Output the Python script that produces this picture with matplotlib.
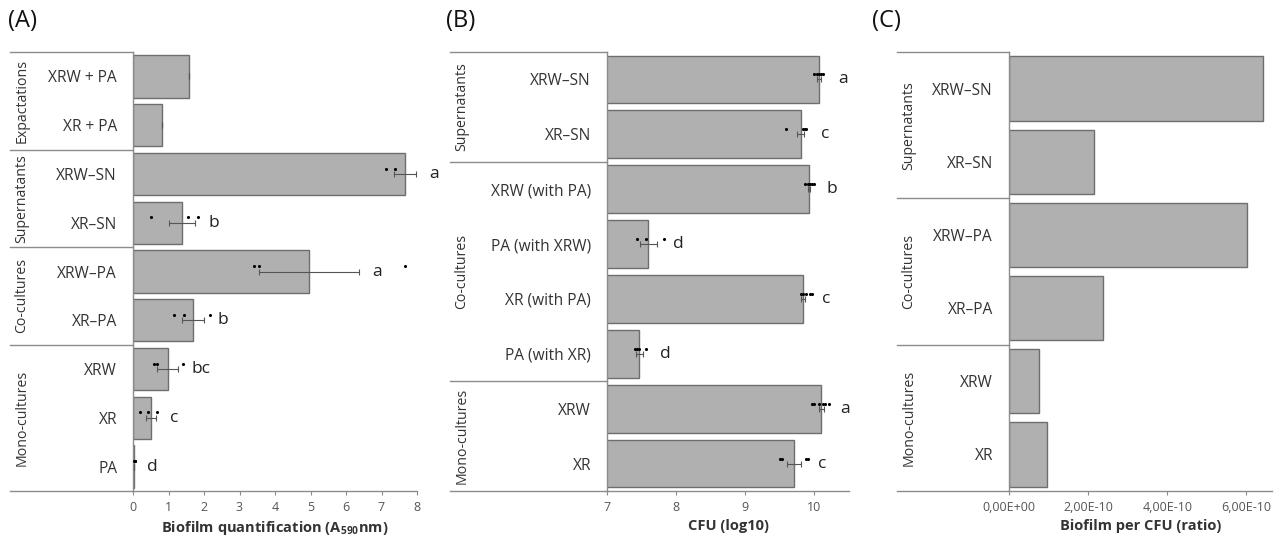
import numpy as np
import matplotlib
matplotlib.use("Agg")
import matplotlib.pyplot as plt
from matplotlib.transforms import blended_transform_factory
from matplotlib.ticker import FuncFormatter

plt.rcParams['font.family'] = ['Open Sans', 'DejaVu Sans']
plt.rcParams['mathtext.fontset'] = 'custom'
plt.rcParams['mathtext.rm'] = 'Open Sans'
plt.rcParams['mathtext.bf'] = 'Open Sans:bold'

# panel A: biofilm quantification
a_categories = ["XRW + PA", "XR + PA", "XRW\u2013SN", "XR\u2013SN", "XRW\u2013PA",
                "XR\u2013PA", "XRW", "XR", "PA"]
a_groups = ["Expactations", "Supernatants", "Co-cultures", "Mono-cultures"]
a_group_sizes = [2, 2, 2, 3]
a_means = [1.58, 0.82, 7.66, 1.38, 4.96, 1.69, 0.98, 0.52, 0.02]
a_errs = [0, 0, 0.31, 0.36, 1.40, 0.32, 0.30, 0.14, 0]
a_points = [[], [], [7.12, 7.37, 8.18], [0.50, 1.54, 1.83], [3.40, 3.54, 7.67],
            [1.15, 1.44, 2.17], [0.58, 0.68, 1.42], [0.19, 0.41, 0.69], [0.04, 0.05, 0.06]]
a_letters = ["", "", "a", "b", "a", "b", "bc", "c", "d"]

# panel B: CFU (log10)
b_categories = ["XRW\u2013SN", "XR\u2013SN", "XRW (with PA)", "PA (with XRW)",
                "XR (with PA)", "PA (with XR)", "XRW", "XR"]
b_groups = ["Supernatants", "Co-cultures", "Mono-cultures"]
b_group_sizes = [2, 4, 2]
b_means = [10.07, 9.80, 9.92, 7.60, 9.84, 7.47, 10.10, 9.71]
b_errs = [0.03, 0.05, 0.02, 0.12, 0.03, 0.05, 0.04, 0.10]
b_points = [[10.00, 10.03, 10.06, 10.10, 10.13], [9.59, 9.83, 9.86, 9.88],
            [9.87, 9.90, 9.93, 9.96, 9.99], [7.43, 7.56, 7.82],
            [9.81, 9.84, 9.88, 9.93, 9.97], [7.41, 7.44, 7.47, 7.56],
            [9.96, 9.99, 10.07, 10.12, 10.16, 10.21], [9.50, 9.53, 9.88, 9.91]]
b_letters = ["a", "c", "b", "d", "c", "d", "a", "c"]

# panel C: biofilm per CFU
c_categories = ["XRW\u2013SN", "XR\u2013SN", "XRW\u2013PA", "XR\u2013PA", "XRW", "XR"]
c_groups = ["Supernatants", "Co-cultures", "Mono-cultures"]
c_group_sizes = [2, 2, 2]
c_ratio = [6.41e-10, 2.15e-10, 6.02e-10, 2.38e-10, 0.76e-10, 0.96e-10]

BAR = '#b0b0b0'
EDGE = '#6e6e6e'
LINE = '#8c8c8c'
W, H = 1274, 537

fig = plt.figure(figsize=(W / 100, H / 100), dpi=100)


def px_axes(left, right, top=52, bottom=491):
    return fig.add_axes([left / W, 1 - bottom / H, (right - left) / W, (bottom - top) / H])


def setup(ax, cats, groups, sizes, box_left, xlabel):
    n = len(cats)
    y = np.arange(n)
    ax.set_ylim(n - 0.5, -0.5)
    ax.set_yticks(y)
    ax.set_yticklabels(cats, fontsize=11.2, color='#333333')
    ax.tick_params(axis='y', length=0, pad=11.5)
    ax.tick_params(axis='x', length=3, color=LINE, labelsize=9, labelcolor='#555555', pad=4)
    for s in ['top', 'right']:
        ax.spines[s].set_visible(False)
    for s in ['left', 'bottom']:
        ax.spines[s].set_color(LINE)
        ax.spines[s].set_linewidth(1)
    ax.set_xlabel(xlabel, fontsize=10.5, fontweight='bold', color='#333333', labelpad=4)
    tr = blended_transform_factory(fig.transFigure, ax.transData)
    ax_left = ax.get_position().x0
    bounds = [-0.5] + list(np.cumsum(sizes) - 0.5)
    for b in bounds:
        ax.plot([box_left / W, ax_left], [b, b], color=LINE, lw=1, transform=tr, clip_on=False)
    for g, lo, hi in zip(groups, bounds[:-1], bounds[1:]):
        ax.text((box_left + 12) / W, (lo + hi) / 2, g, rotation=90, ha='center', va='center',
                fontsize=10.2, color='#333333', transform=tr)
    return y


def draw_points(ax, y, points, means, errs, letters, letter_off, dy=0.11):
    for yi, pts in zip(y, points):
        if pts:
            ax.scatter(pts, [yi - dy] * len(pts), s=5, color='black', zorder=4, linewidths=0)
    ax.errorbar(means, y, xerr=errs, fmt='none', ecolor='#555555', elinewidth=0.8,
                capsize=2.5, capthick=0.8, zorder=3)
    for yi, m, e, t in zip(y, means, errs, letters):
        if t:
            ax.text(m + e + letter_off, yi, t, ha='left', va='center', fontsize=12.5,
                    color='#222222')


# (A)
ax1 = px_axes(133, 417)
y1 = setup(ax1, a_categories, a_groups, a_group_sizes, 10,
           r'Biofilm quantification ($\mathbf{A_{590}}$nm)')
ax1.barh(y1, a_means, height=0.87, color=BAR, edgecolor=EDGE, linewidth=1, zorder=2)
draw_points(ax1, y1, a_points, a_means, a_errs, a_letters, 0.38)
ax1.set_xlim(0, 8)
ax1.set_xticks(range(9))

# (B)
ax2 = px_axes(607, 849)
y2 = setup(ax2, b_categories, b_groups, b_group_sizes, 450, 'CFU (log10)')
ax2.barh(y2, b_means, height=0.87, color=BAR, edgecolor=EDGE, linewidth=1, zorder=2)
draw_points(ax2, y2, b_points, b_means, b_errs, b_letters, 0.24, dy=0.09)
ax2.set_xlim(7, 10.5)
ax2.set_xticks([7, 8, 9, 10])

# (C)
ax3 = px_axes(1009, 1272)
y3 = setup(ax3, c_categories, c_groups, c_group_sizes, 897, 'Biofilm per CFU (ratio)')
ax3.barh(y3, c_ratio, height=0.88, color=BAR, edgecolor=EDGE, linewidth=1, zorder=2)
ax3.set_xlim(0, 6.65e-10)
ax3.set_xticks([0, 2e-10, 4e-10, 6e-10])
ax3.xaxis.set_major_formatter(FuncFormatter(lambda v, p: f"{v:.2E}".replace('.', ',')))

for lbl, x in [("(A)", 8), ("(B)", 446), ("(C)", 872)]:
    fig.text(x / W, 1 - 21 / H, lbl, fontsize=17, ha='left', va='center', color='#111111')

fig.savefig("out.png", dpi=100)
